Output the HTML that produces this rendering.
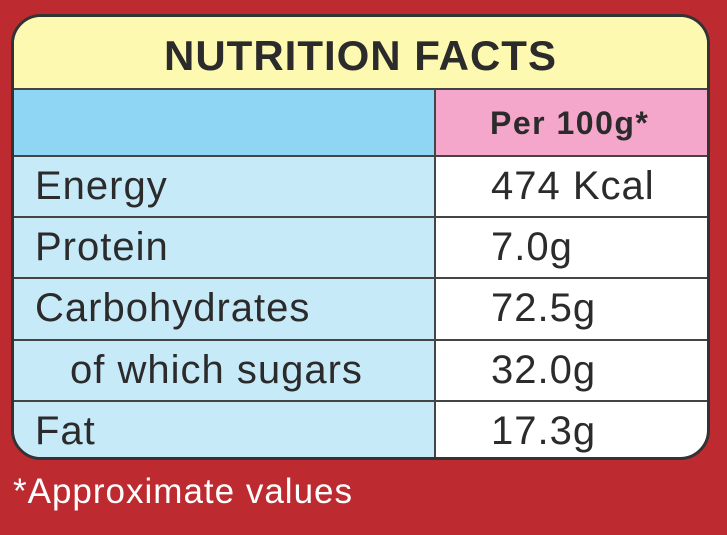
<!DOCTYPE html>
<html><head><meta charset="utf-8"><style>
body{margin:0;width:727px;height:535px;background:#bd2b30;font-family:"Liberation Sans",Arial,sans-serif;position:relative;overflow:hidden}
#box{position:absolute;left:11px;top:14px;width:693px;height:440px;border:3px solid #333;border-radius:30px;overflow:hidden;background:#fff}
#title{position:absolute;left:0;top:0;width:693px;height:71px;background:#fef9b1;border-bottom:2px solid #444;text-align:center;font-weight:bold;font-size:42px;letter-spacing:1px;line-height:78px;color:#2b2b2b}
.row{position:absolute;left:0;width:693px;border-bottom:2px solid #444;box-sizing:border-box}
.l{position:absolute;left:0;top:0;width:422px;height:100%;background:#c7eaf9;border-right:2px solid #444;box-sizing:border-box;font-size:40px;letter-spacing:1px;line-height:58px;padding-left:21px;color:#2b2b2b}
.v{position:absolute;left:422px;top:0;width:271px;height:100%;font-size:40px;letter-spacing:1px;line-height:58px;padding-left:55px;box-sizing:border-box;color:#2b2b2b}
#foot{position:absolute;left:13px;top:472px;font-size:35px;letter-spacing:1px;color:#fff}
</style></head><body>
<div id="box">
<div id="title">NUTRITION FACTS</div>
<div class="row" style="top:73px;height:67px">
<div class="l" style="background:#8fd6f4"></div>
<div class="v" style="background:#f4a7cb;font-weight:bold;font-size:32px;letter-spacing:1.5px;line-height:66px;padding-left:54px">Per 100g*</div></div>
<div class="row" style="top:140px;height:61px"><div class="l">Energy</div><div class="v">474 Kcal</div></div>
<div class="row" style="top:201px;height:61px"><div class="l">Protein</div><div class="v">7.0g</div></div>
<div class="row" style="top:262px;height:62px"><div class="l">Carbohydrates</div><div class="v">72.5g</div></div>
<div class="row" style="top:324px;height:61px"><div class="l" style="padding-left:56px">of which sugars</div><div class="v">32.0g</div></div>
<div class="row" style="top:385px;height:60px;border-bottom:none"><div class="l">Fat</div><div class="v">17.3g</div></div>
</div>
<div id="foot">*Approximate values</div>
</body></html>
